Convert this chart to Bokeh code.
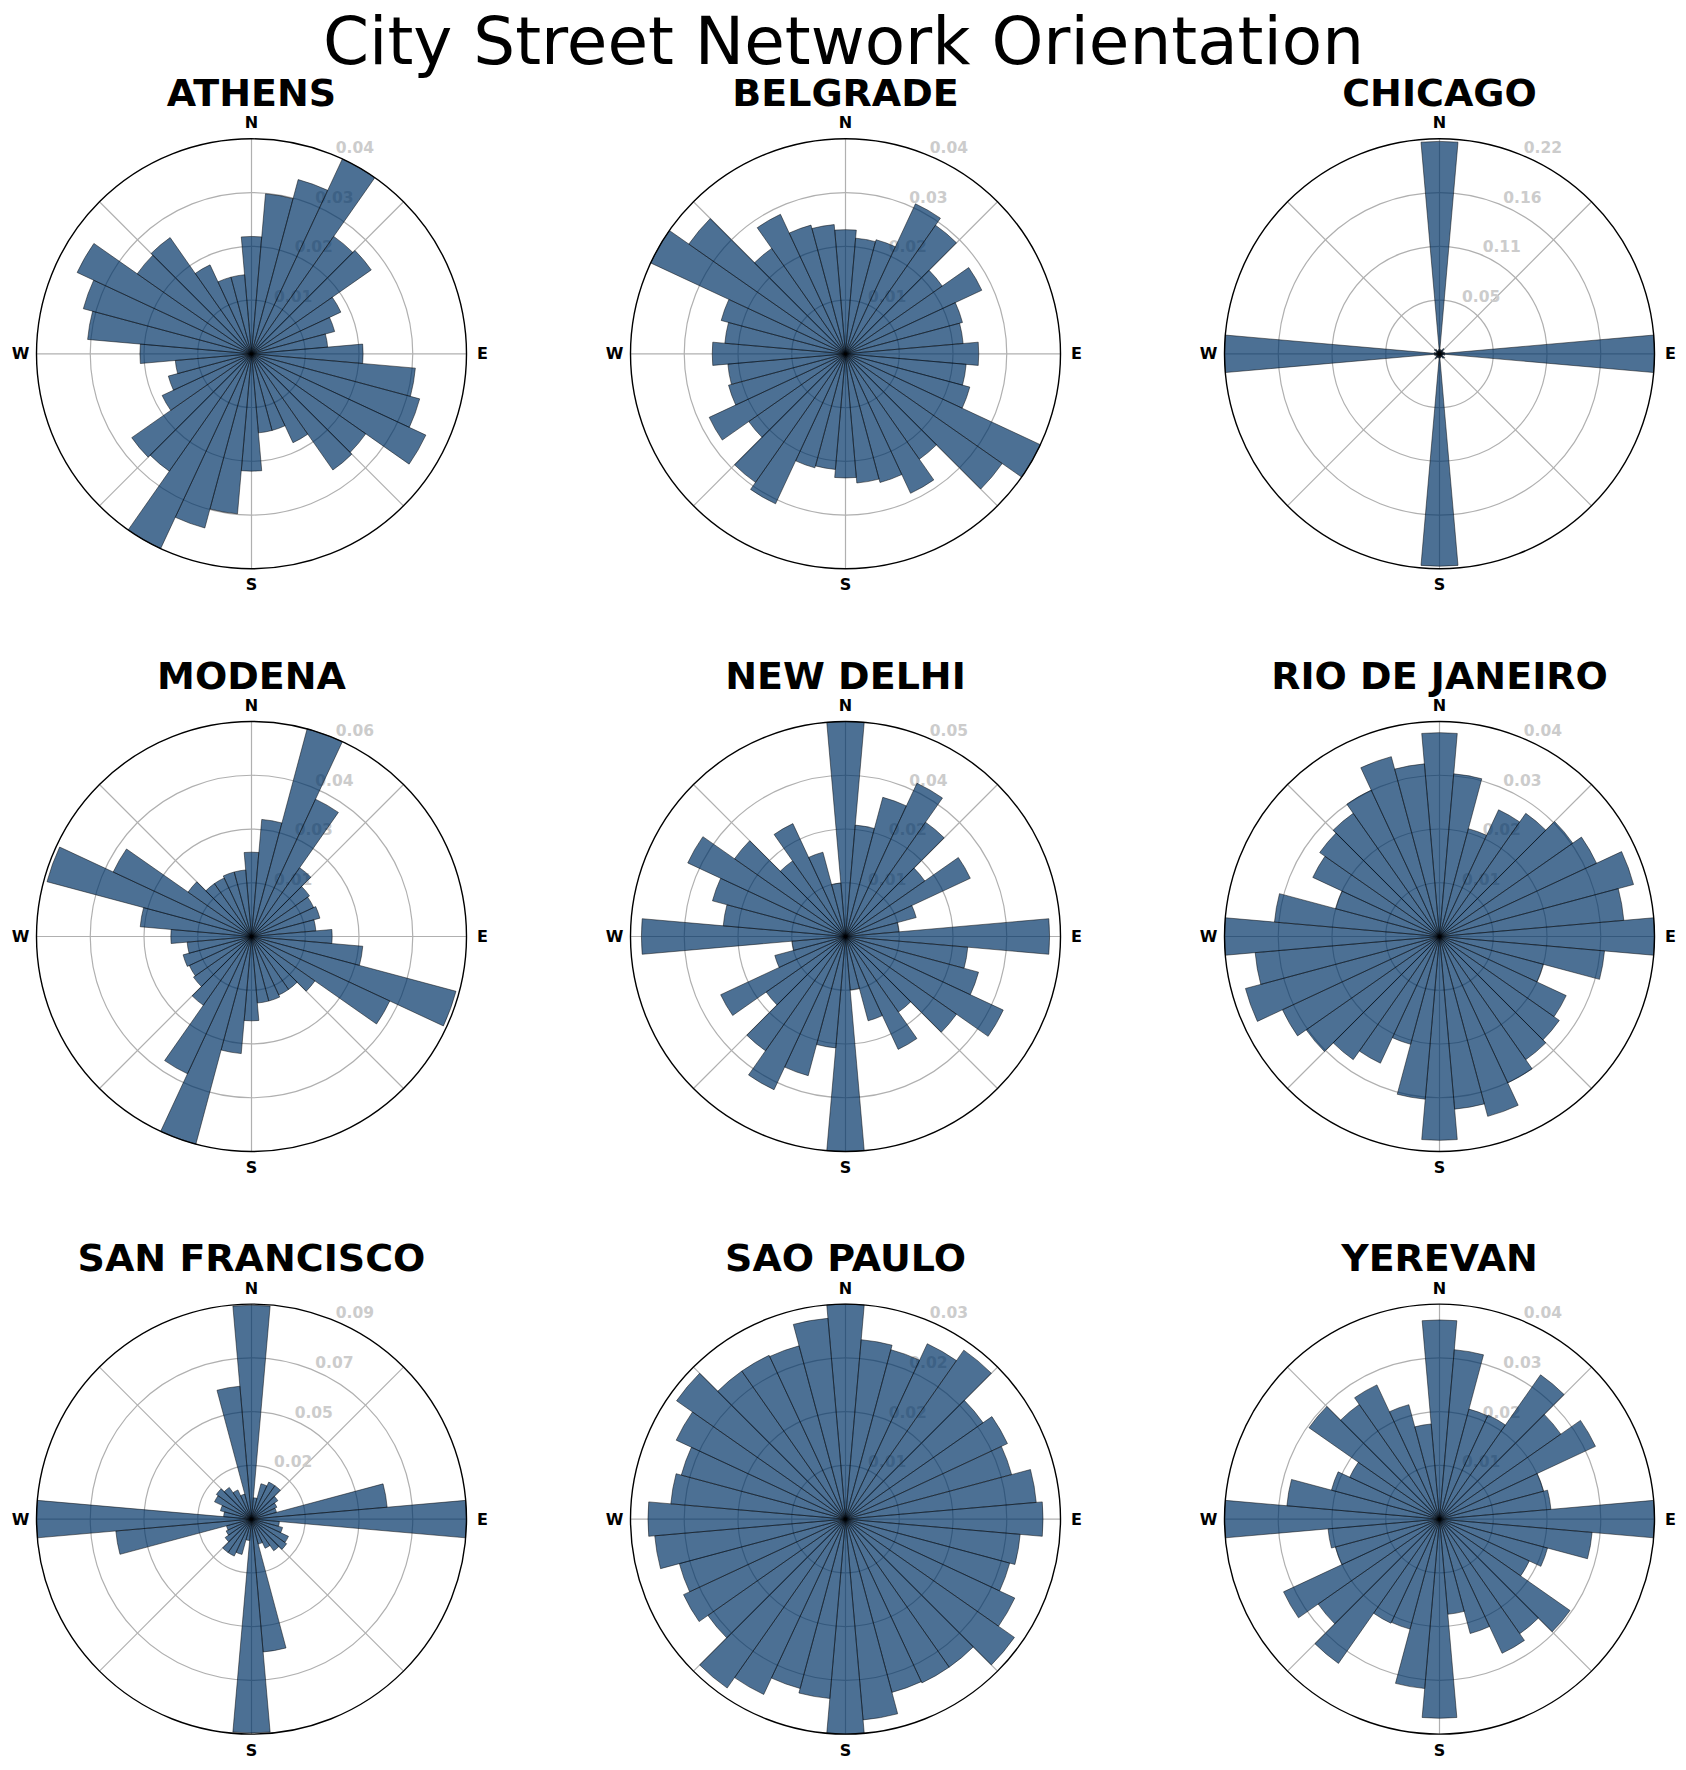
import math
from bokeh.plotting import figure
from bokeh.models import Range1d
from bokeh.core.properties import value
from bokeh.embed import file_html
from bokeh.resources import INLINE

# ---------------- data ----------------
TITLE = "City Street Network Orientation"
CITIES = ["ATHENS", "BELGRADE", "CHICAGO",
          "MODENA", "NEW DELHI", "RIO DE JANEIRO",
          "SAN FRANCISCO", "SAO PAULO", "YEREVAN"]

# bin centres (compass bearing, degrees) of the first half of the rose;
# the opposite bearing (b + 180) carries the same frequency
BIN_CENTERS = [0, 10, 20, 30, 40, 50, 60, 70, 80,
               90, 100, 110, 120, 130, 140, 150, 160, 170]
BIN_WIDTH = 10

ATHENS = [0.0244, 0.0334, 0.0375, 0.0447, 0.0298, 0.0304, 0.0205, 0.0179, 0.0159,
          0.0232, 0.0342, 0.0362, 0.0400, 0.0290, 0.0295, 0.0204, 0.0165, 0.0165]
BELGRADE = [0.0246, 0.0230, 0.0234, 0.0328, 0.0311, 0.0234, 0.0298, 0.0240, 0.0234,
            0.0264, 0.0240, 0.0255, 0.0426, 0.0379, 0.0255, 0.0305, 0.0264, 0.0257]
CHICAGO = [0.2136, 0.0043, 0.0032, 0.0043, 0.0065, 0.0043, 0.0032, 0.0043, 0.0054,
           0.2162, 0.0054, 0.0032, 0.0032, 0.0065, 0.0054, 0.0032, 0.0032, 0.0043]
MODENA = [0.0231, 0.0322, 0.0589, 0.0415, 0.0230, 0.0194, 0.0188, 0.0194, 0.0177,
          0.0221, 0.0306, 0.0580, 0.0418, 0.0212, 0.0177, 0.0177, 0.0183, 0.0183]
NEW_DELHI = [0.0473, 0.0246, 0.0317, 0.0372, 0.0307, 0.0213, 0.0303, 0.0161, 0.0118,
             0.0449, 0.0270, 0.0303, 0.0383, 0.0298, 0.0203, 0.0274, 0.0192, 0.0118]
RIO_DE_JANEIRO = [0.0347, 0.0278, 0.0190, 0.0238, 0.0256, 0.0277, 0.0295, 0.0342, 0.0315,
                  0.0366, 0.0282, 0.0183, 0.0238, 0.0249, 0.0256, 0.0275, 0.0317, 0.0295]
SAN_FRANCISCO = [0.0917, 0.0092, 0.0157, 0.0175, 0.0175, 0.0138, 0.0120, 0.0111, 0.0584,
                 0.0922, 0.0120, 0.0138, 0.0175, 0.0184, 0.0166, 0.0138, 0.0111, 0.0572]
SAO_PAULO = [0.0320, 0.0268, 0.0261, 0.0288, 0.0307, 0.0250, 0.0266, 0.0256, 0.0285,
             0.0294, 0.0261, 0.0253, 0.0278, 0.0307, 0.0269, 0.0269, 0.0267, 0.0300]
YEREVAN = [0.0390, 0.0333, 0.0223, 0.0225, 0.0345, 0.0290, 0.0337, 0.0211, 0.0219,
           0.0421, 0.0300, 0.0219, 0.0194, 0.0312, 0.0274, 0.0290, 0.0232, 0.0187]

SERIES = [ATHENS, BELGRADE, CHICAGO, MODENA, NEW_DELHI, RIO_DE_JANEIRO,
          SAN_FRANCISCO, SAO_PAULO, YEREVAN]

DIRECTIONS = ["N", "E", "S", "W"]
DIRECTION_BEARINGS = [0, 90, 180, 270]
SPOKE_BEARINGS = [0, 45, 90, 135, 180, 225, 270, 315]

# ---------------- layout / style ----------------
PAGE_W, PAGE_H = 1686, 1770
R_PX = 215.0                       # radius of each rose in pixels
COL_X = [251.0, 845.0, 1439.0]     # rose centres (pixels from left)
ROW_Y = [353.3, 936.0, 1518.6]     # rose centres (pixels from top)
TITLE_MID_Y = 40.5                 # main title vertical centre (pixels from top)
CITY_TITLE_OFFSET = 261.0          # city title centre above rose centre (pixels)
DIR_LABEL_OFFSET = 231.0           # compass labels from rose centre (pixels)

FONT = value("DejaVu Sans")
BAR_FILL = "#003366"
GRID_COLOR = "#b0b0b0"
TICK_COLOR = "#cccccc"

p = figure(width=PAGE_W, height=PAGE_H,
           x_range=Range1d(0, PAGE_W), y_range=Range1d(0, PAGE_H),
           output_backend="svg", toolbar_location=None,
           min_border=0, min_border_left=0, min_border_right=0,
           min_border_top=0, min_border_bottom=0)
p.axis.visible = False
p.xgrid.visible = False
p.ygrid.visible = False
p.outline_line_color = None
p.background_fill_color = "white"
p.border_fill_color = "white"

# main title (page pixel coordinates)
p.text(x=[PAGE_W / 2], y=[PAGE_H - TITLE_MID_Y], text=[TITLE],
       text_font=FONT, text_font_size=value("66px"),
       text_align="center", text_baseline="middle", text_color="black")


def rad(b):
    return math.radians(b)


for i, (city, half) in enumerate(zip(CITIES, SERIES)):
    cx = COL_X[i % 3]
    cy = ROW_Y[i // 3]
    ymax = max(half)
    s = ymax / R_PX  # data units per pixel for this rose
    xr_name, yr_name = f"x{i}", f"y{i}"
    p.extra_x_ranges[xr_name] = Range1d(-cx * s, (PAGE_W - cx) * s)
    p.extra_y_ranges[yr_name] = Range1d(-(PAGE_H - cy) * s, cy * s)
    kw = dict(x_range_name=xr_name, y_range_name=yr_name)

    # full rose: each bearing and its reverse carry the same frequency
    bearings = BIN_CENTERS + [b + 180 for b in BIN_CENTERS]
    freqs = list(half) + list(half)

    # grid circles and spokes
    rings = [ymax * k / 4 for k in (1, 2, 3)]
    p.circle(x=[0] * 3, y=[0] * 3, radius=rings, fill_color=None,
             line_color=GRID_COLOR, line_width=1.2, **kw)
    p.segment(x0=[0] * 8, y0=[0] * 8,
              x1=[ymax * math.sin(rad(b)) for b in SPOKE_BEARINGS],
              y1=[ymax * math.cos(rad(b)) for b in SPOKE_BEARINGS],
              line_color=GRID_COLOR, line_width=1.2, **kw)

    # radial tick labels at 22.5 degrees
    ticks = [ymax * k / 4 for k in (1, 2, 3, 4)]
    p.text(x=[t * math.sin(rad(22.5)) for t in ticks],
           y=[t * math.cos(rad(22.5)) for t in ticks],
           text=["%.2f" % t for t in ticks],
           text_font=FONT, text_font_style="bold", text_font_size=value("15.5px"),
           text_color=TICK_COLOR, text_align="left", text_baseline="bottom",
           x_offset=2, y_offset=-2, **kw)

    # bars
    p.wedge(x=0, y=0, radius=freqs,
            start_angle=[rad(90 - b - BIN_WIDTH / 2) for b in bearings],
            end_angle=[rad(90 - b + BIN_WIDTH / 2) for b in bearings],
            direction="anticlock",
            fill_color=BAR_FILL, fill_alpha=0.7,
            line_color="black", line_width=0.6, line_alpha=0.8, **kw)

    # outer boundary
    p.circle(x=[0], y=[0], radius=[ymax], fill_color=None,
             line_color="black", line_width=1.4, **kw)

    # compass labels
    rl = ymax * DIR_LABEL_OFFSET / R_PX
    p.text(x=[rl * math.sin(rad(b)) for b in DIRECTION_BEARINGS],
           y=[rl * math.cos(rad(b)) for b in DIRECTION_BEARINGS],
           text=DIRECTIONS, text_font=FONT, text_font_style="bold",
           text_font_size=value("16px"), text_color="black",
           text_align="center", text_baseline="middle", **kw)

    # city title
    p.text(x=[0], y=[ymax * CITY_TITLE_OFFSET / R_PX], text=[city],
           text_font=FONT, text_font_style="bold", text_font_size=value("38px"),
           text_color="black", text_align="center", text_baseline="middle", **kw)

open("out.html", "w").write(file_html(p, INLINE))
